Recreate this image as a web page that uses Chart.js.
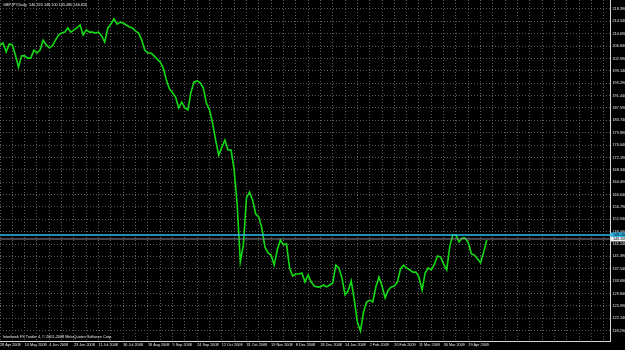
<!DOCTYPE html>
<html>
<head>
<meta charset="utf-8">
<script src="https://cdn.jsdelivr.net/npm/chart.js@4.4.1/dist/chart.umd.min.js"></script>
<style>
  html, body { margin: 0; padding: 0; background: #000; }
  #wrap { width: 625px; height: 350px; position: relative; }
</style>
</head>
<body>
<div id="wrap"><canvas id="fxChart"></canvas></div>
<script>
// GBPJPY daily - one value every 2 bars
const closes = [
  207.2, 207.8, 205.0, 207.5, 207.2, 204.1, 200.3, 203.8, 203.8, 203.1,
  203.1, 205.6, 204.7, 205.6, 208.7, 207.2, 206.3, 206.9, 208.7, 210.3,
  210.9, 211.2, 212.5, 211.2, 211.9, 212.5, 213.4, 210.3, 211.9, 211.2,
  211.2, 210.9, 211.2, 210.0, 208.1, 212.5, 213.7, 215.3, 213.7, 214.3,
  214.0, 213.4, 212.8, 212.5, 211.5, 210.9, 208.7, 205.6, 204.7, 204.7,
  203.8, 202.8, 201.9, 200.0, 196.3, 193.5, 192.3, 191.0, 187.6, 189.4,
  187.6, 187.0, 192.6, 195.7, 196.0, 195.4, 193.8, 189.1, 187.0, 182.9,
  177.6, 172.9, 175.4, 177.6, 174.5, 174.5, 168.3, 157.4, 139.7, 145.0,
  159.6, 161.4, 158.9, 154.6, 153.7, 150.2, 144.3, 142.5, 141.8, 138.7,
  143.4, 146.5, 145.0, 145.3, 137.8, 135.3, 135.9, 135.9, 136.2, 133.4,
  135.6, 133.4, 132.2, 131.9, 131.9, 132.5, 131.9, 132.5, 133.1, 138.7,
  137.8, 134.7, 129.4, 130.6, 133.8, 127.8, 121.0, 118.2, 124.1, 127.2,
  127.8, 127.2, 131.9, 135.0, 132.2, 128.5, 130.9, 131.9, 132.2, 133.4,
  137.5, 138.7, 137.8, 137.2, 136.5, 136.5, 135.0, 130.9, 136.2, 137.8,
  137.2, 139.0, 141.5, 141.2, 139.0, 137.2, 144.6, 148.1, 148.1, 145.9,
  147.1, 147.1, 145.6, 142.2, 141.8, 140.6, 139.4, 142.8, 146.5
];
const BARS_PER_POINT = 2;

// time scale labels, one every 16 bars
const dateLabels = [
  '28 Apr 2008', '14 May 2008', '4 Jun 2008', '23 Jun 2008', '11 Jul 2008',
  '30 Jul 2008', '18 Aug 2008', '5 Sep 2008', '24 Sep 2008', '12 Oct 2008',
  '31 Oct 2008', '19 Nov 2008', '8 Dec 2008', '26 Dec 2008', '14 Jan 2009',
  '2 Feb 2009', '20 Feb 2009', '11 Mar 2009', '30 Mar 2009', '19 Apr 2009'
];
const BARS_PER_LABEL = 16;

const priceTicks = [
  218.39, 214.54, 210.69, 206.84, 202.99, 199.14, 195.29, 191.44, 187.59, 183.74,
  179.89, 176.04, 172.19, 168.34, 164.49, 160.64, 156.79, 152.94, 149.09, 145.24,
  141.39, 137.54, 133.69, 129.84, 125.99, 122.14, 118.29
];

const levelPrice = 148.06;   // cyan horizontal line
const bidPrice = 146.82;     // grey bid line
const headerText = 'GBPJPY,Daily  146.320 148.100 145.480 146.820';
const footerText = 'Interbank FX Trader 4, \u00a9 2001-2008 MetaQuotes Software Corp.';

const FONT = 'Liberation Sans, Arial, sans-serif';
const smallFont = { family: FONT, size: 3.8 };

const mt4Overlay = {
  id: 'mt4Overlay',
  beforeDraw(chart) {
    const { ctx, width, height } = chart;
    ctx.save();
    ctx.fillStyle = '#000';
    ctx.fillRect(0, 0, width, height);
    ctx.restore();
  },
  afterDatasetsDraw(chart) {
    const { ctx, chartArea: a, scales: { y } } = chart;
    const yl = y.getPixelForValue(levelPrice);
    const yb = y.getPixelForValue(bidPrice);
    ctx.save();
    ctx.strokeStyle = '#8a8a8a';
    ctx.lineWidth = 1;
    ctx.beginPath();
    ctx.moveTo(a.left, yb);
    ctx.lineTo(a.right, yb);
    ctx.stroke();
    ctx.strokeStyle = '#2cb8ea';
    ctx.lineWidth = 1.6;
    ctx.beginPath();
    ctx.moveTo(a.left, yl);
    ctx.lineTo(chart.width, yl);
    ctx.stroke();
    ctx.restore();
  },
  afterDraw(chart) {
    const { ctx, chartArea: a, scales: { y } } = chart;
    ctx.save();
    ctx.font = '3.8px ' + FONT;
    ctx.textBaseline = 'middle';
    ctx.fillStyle = '#e8e8e8';
    ctx.fillText(headerText, 3, 4.5);
    ctx.fillText(footerText, 3, a.bottom - 4.5);

    // price label boxes on the scale
    const yl = y.getPixelForValue(levelPrice);
    const yb = y.getPixelForValue(bidPrice);
    ctx.fillStyle = '#2cb8ea';
    ctx.fillRect(a.right + 1, yl - 2.5, chart.width - a.right, 5);
    ctx.fillStyle = '#000';
    ctx.fillText(levelPrice.toFixed(3), a.right + 3, yl);
    ctx.fillStyle = '#f0f0f0';
    ctx.fillRect(a.right + 1, yb - 2, chart.width - a.right, 4.5);
    ctx.fillStyle = '#000';
    ctx.fillText(bidPrice.toFixed(3), a.right + 3, yb + 0.3);
    ctx.restore();
  }
};

const points = closes.map((p, i) => ({ x: i * BARS_PER_POINT, y: p }));

new Chart(document.getElementById('fxChart'), {
  type: 'line',
  data: {
    datasets: [{
      data: points,
      borderColor: '#14dc14',
      borderWidth: 1.6,
      pointRadius: 0,
      tension: 0,
      fill: false
    }]
  },
  options: {
    responsive: true,
    maintainAspectRatio: false,
    animation: false,
    layout: { padding: 0 },
    plugins: {
      legend: { display: false },
      tooltip: { enabled: false }
    },
    scales: {
      x: {
        type: 'linear',
        min: 0,
        max: 396,
        afterBuildTicks: s => {
          const t = [];
          for (let v = 0; v < 396; v += BARS_PER_LABEL / 2) t.push({ value: v });
          s.ticks = t;
        },
        afterFit: s => { s.height = 9; s.paddingLeft = 0; s.paddingRight = 0; },
        grid: { color: '#5a5a5a', lineWidth: 1, drawTicks: false },
        border: { display: true, color: '#d8d8d8', width: 1, dash: [1, 2] },
        ticks: {
          autoSkip: false,
          maxRotation: 0,
          align: 'start',
          padding: 2,
          color: '#e8e8e8',
          font: smallFont,
          callback: v => (v % BARS_PER_LABEL === 0 ? (dateLabels[v / BARS_PER_LABEL] || '') : '')
        }
      },
      y: {
        type: 'linear',
        position: 'right',
        min: 115.07,
        max: 221.19,
        afterBuildTicks: s => { s.ticks = priceTicks.map(v => ({ value: v })); },
        afterFit: s => { s.width = 15; s.paddingTop = 0; s.paddingBottom = 0; },
        grid: { color: '#5a5a5a', lineWidth: 1, drawTicks: false },
        border: { display: true, color: '#d8d8d8', width: 1, dash: [1, 2] },
        ticks: {
          padding: 2.5,
          color: '#e8e8e8',
          font: smallFont,
          callback: v => v.toFixed(3)
        }
      }
    }
  },
  plugins: [mt4Overlay]
});
</script>
</body>
</html>
